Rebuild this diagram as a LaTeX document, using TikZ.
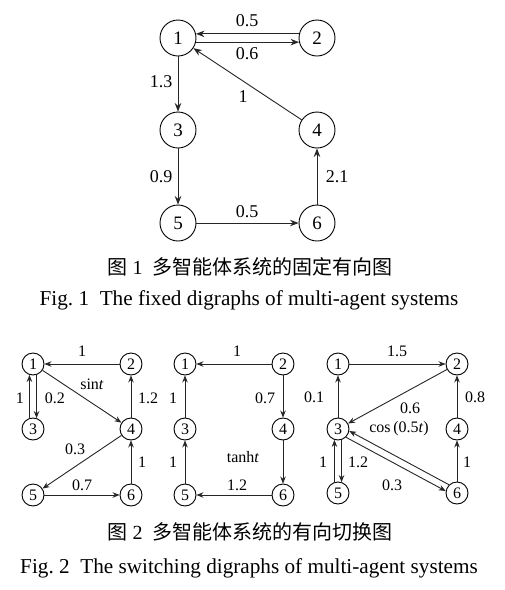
\documentclass[tikz,border=0pt]{standalone}
\usepackage{fontspec}
\setmainfont{Liberation Serif}
\newfontfamily\cjk{Noto Sans CJK SC}
\usetikzlibrary{arrows.meta}
\begin{document}
\begin{tikzpicture}[x=1pt,y=-1pt,
  bignode/.style={circle,draw,line width=0.9pt,minimum size=36pt,inner sep=0pt,font=\fontsize{19}{19}\selectfont},
  smallnode/.style={circle,draw,line width=0.9pt,minimum size=22pt,inner sep=0pt,font=\fontsize{16}{16}\selectfont},
  bigedge/.style={-{Stealth[length=8.5pt,width=6.5pt]},line width=0.9pt,draw=black!85},
  smalledge/.style={-{Stealth[length=7pt,width=5.5pt]},line width=0.9pt,draw=black!85},
  biglab/.style={font=\fontsize{18}{18}\selectfont,inner sep=0pt},
  smalllab/.style={font=\fontsize{16}{16}\selectfont,inner sep=0pt},
  captext/.style={font=\fontsize{20}{22}\selectfont,inner sep=0pt},
  capeng/.style={font=\fontsize{21.2}{23}\selectfont,inner sep=0pt},
  ]
\fill[white] (0,0) rectangle (505,590);
\useasboundingbox (0,0) rectangle (505,590);

% ---------- Fig 1 ----------
\node[bignode] (a1) at (178,38) {1};
\node[bignode] (a2) at (317,38) {2};
\node[bignode] (a3) at (178,130) {3};
\node[bignode] (a4) at (317,130) {4};
\node[bignode] (a5) at (178,223) {5};
\node[bignode] (a6) at (317,223) {6};
\draw[bigedge] (a2.167) -- (a1.13);
\draw[bigedge] (a1.-13) -- (a2.193);
\draw[bigedge] (a1) -- (a3);
\draw[bigedge] (a4) -- (a1);
\draw[bigedge] (a3) -- (a5);
\draw[bigedge] (a5) -- (a6);
\draw[bigedge] (a6) -- (a4);
\node[biglab] (la12) at (247,21) {0.5};
\node[biglab] (la21) at (247,54) {0.6};
\node[biglab] (la13) at (161,82) {1.3};
\node[biglab] (la41) at (243,97) {1};
\node[biglab] (la35) at (161,177) {0.9};
\node[biglab] (la64) at (337,177) {2.1};
\node[biglab] (la56) at (247,212) {0.5};
\node[captext] (c1) at (250,267) {{\cjk 图}\ 1\ \ {\cjk 多智能体系统的固定有向图}};
\node[capeng] (c2) at (249,300) {Fig.~1\ \ The fixed digraphs of multi-agent systems};

% ---------- Fig 2 left ----------
\node[smallnode] (b1) at (33,364) {1};
\node[smallnode] (b2) at (131,364) {2};
\node[smallnode] (b3) at (33,429) {3};
\node[smallnode] (b4) at (131,429) {4};
\node[smallnode] (b5) at (33,495) {5};
\node[smallnode] (b6) at (131,495) {6};
\draw[smalledge] (b2) -- (b1);
\draw[smalledge] (b1) -- (b4);
\draw[smalledge] (b4) -- (b2);
\draw[smalledge] (b3.108) -- (b1.252);
\draw[smalledge] (b1.288) -- (b3.72);
\draw[smalledge] (b4) -- (b5);
\draw[smalledge] (b5) -- (b6);
\draw[smalledge] (b6) -- (b4);
\node[smalllab] (lb21) at (82,351) {1};
\node[smalllab] (lb14) at (92,384) {sin\textit{t}};
\node[smalllab] (lb42) at (148,398) {1.2};
\node[smalllab] (lb31) at (20,398) {1};
\node[smalllab] (lb13) at (55,398) {0.2};
\node[smalllab] (lb45) at (75,449) {0.3};
\node[smalllab] (lb56) at (82,485) {0.7};
\node[smalllab] (lb64) at (142,462) {1};

% ---------- Fig 2 middle ----------
\node[smallnode] (m1) at (185,364) {1};
\node[smallnode] (m2) at (283,364) {2};
\node[smallnode] (m3) at (185,429) {3};
\node[smallnode] (m4) at (283,429) {4};
\node[smallnode] (m5) at (185,495) {5};
\node[smallnode] (m6) at (283,495) {6};
\draw[smalledge] (m2) -- (m1);
\draw[smalledge] (m2) -- (m4);
\draw[smalledge] (m4) -- (m6);
\draw[smalledge] (m6) -- (m5);
\draw[smalledge] (m5) -- (m3);
\draw[smalledge] (m3) -- (m1);
\node[smalllab] (lm21) at (237,351) {1};
\node[smalllab] (lm24) at (265,398) {0.7};
\node[smalllab] (lm46) at (243,457) {tanh\textit{t}};
\node[smalllab] (lm65) at (237,485) {1.2};
\node[smalllab] (lm31) at (173,398) {1};
\node[smalllab] (lm53) at (173,462) {1};

% ---------- Fig 2 right ----------
\node[smallnode] (r1) at (338,364) {1};
\node[smallnode] (r2) at (457,364) {2};
\node[smallnode] (r3) at (338,429) {3};
\node[smallnode] (r4) at (457,429) {4};
\node[smallnode] (r5) at (338,493) {5};
\node[smallnode] (r6) at (457,493) {6};
\draw[smalledge] (r1) -- (r2);
\draw[smalledge] (r3) -- (r1);
\draw[smalledge] (r4) -- (r2);
\draw[smalledge] (r2) -- (r3);
\draw[smalledge] (r6) -- (r4);
\draw[smalledge] (r5.108) -- (r3.252);
\draw[smalledge] (r3.288) -- (r5.72);
\draw[smalledge] (r6.134) -- (r3.-10);
\draw[smalledge] (r3.-46) -- (r6.170);
\node[smalllab] (lr12) at (397,351) {1.5};
\node[smalllab] (lr31) at (314,397) {0.1};
\node[smalllab] (lr42) at (475,397) {0.8};
\node[smalllab] (lr23) at (410,408) {0.6};
\node[smalllab] (lr43) at (399,429) {cos\,(0.5\textit{t})};
\node[smalllab] (lr64) at (467,462) {1};
\node[smalllab] (lr53) at (323,462) {1};
\node[smalllab] (lr35) at (358,462) {1.2};
\node[smalllab] (lr36) at (392,485) {0.3};
\node[captext] (c3) at (250,532) {{\cjk 图}\ 2\ \ {\cjk 多智能体系统的有向切换图}};
\node[capeng] (c4) at (249,568) {Fig.~2\ \ The switching digraphs of multi-agent systems};
\end{tikzpicture}
\end{document}
